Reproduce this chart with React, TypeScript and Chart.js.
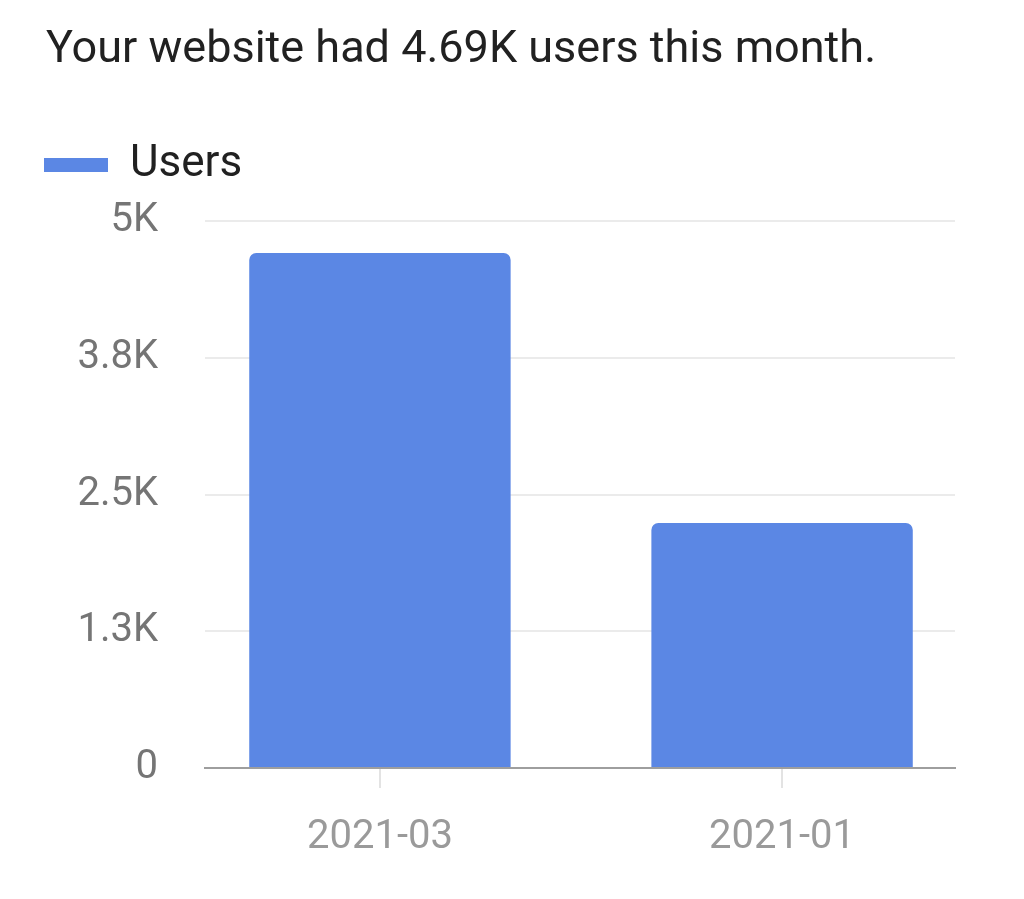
import { useEffect, useRef } from "react";
import { Chart, registerables } from "chart.js";

Chart.register(...registerables);

const headline = "Your website had 4.69K users this month.";
const seriesName = "Users";
const categories = ["2021-03", "2021-01"];
const users = [4710, 2240];
const yTickValues = [0, 1250, 2500, 3750, 5000];
const yTickLabels = ["0", "1.3K", "2.5K", "3.8K", "5K"];

const BAR_BLUE = "#5b87e4";

export default function App() {
  const canvasRef = useRef<HTMLCanvasElement | null>(null);
  const chartRef = useRef<Chart | null>(null);

  useEffect(() => {
    const canvas = canvasRef.current;
    if (!canvas) return;
    const ctx = canvas.getContext("2d");
    if (!ctx) return;

    if (chartRef.current) chartRef.current.destroy();

    chartRef.current = new Chart(ctx, {
      type: "bar",
      data: {
        datasets: [
          {
            label: seriesName,
            data: users.map((v, i) => ({ x: i, y: v })),
            backgroundColor: BAR_BLUE,
            borderWidth: 0,
            borderRadius: { topLeft: 7, topRight: 7, bottomLeft: 0, bottomRight: 0 },
            borderSkipped: false,
            barPercentage: 0.65,
            categoryPercentage: 1,
          },
        ],
      },
      options: {
        animation: false,
        responsive: true,
        maintainAspectRatio: false,
        layout: { padding: { top: 116, left: 17, right: 69, bottom: 0 } },
        font: { family: "Roboto" },
        scales: {
          x: {
            type: "linear",
            offset: false,
            min: -0.435,
            max: 1.43,
            afterBuildTicks: (scale: any) => {
              scale.ticks = categories.map((_, i) => ({ value: i }));
            },
            afterFit: (scale: any) => {
              scale.height = 131;
            },
            ticks: {
              callback: (value: any) => categories[Number(value)] ?? "",
              color: "#9a9a9a",
              font: { family: "Roboto", size: 40 },
              padding: 26,
              maxRotation: 0,
            },
            grid: {
              offset: false,
              drawOnChartArea: false,
              drawTicks: true,
              tickLength: 20,
              color: "#e3e3e3",
              lineWidth: 2,
            },
            border: { display: true, color: "#9e9e9e", width: 2 },
          },
          y: {
            min: 0,
            max: 5000,
            afterBuildTicks: (scale: any) => {
              scale.ticks = yTickValues.map((v) => ({ value: v }));
            },
            afterFit: (scale: any) => {
              scale.width = 188;
            },
            ticks: {
              callback: (_v: any, i: number) => yTickLabels[i],
              color: "#757575",
              font: { family: "Roboto", size: 40 },
              padding: 47,
            },
            grid: {
              drawTicks: false,
              color: "#ebebeb",
              lineWidth: 2,
            },
            border: { display: false },
          },
        },
        plugins: {
          legend: {
            display: true,
            position: "top",
            align: "start",
            labels: {
              boxWidth: 64,
              boxHeight: 14,
              padding: 27,
              color: "#212121",
              font: { family: "Roboto", size: 44 },
            },
          },
          // empty spacer between the legend and the plot
          subtitle: {
            display: true,
            text: "",
            position: "top",
            weight: 500,
            font: { size: 1 },
            padding: { top: 23, bottom: 0 },
          },
          tooltip: { enabled: false },
          title: { display: false },
        },
      } as any,
    });

    return () => {
      if (chartRef.current) {
        chartRef.current.destroy();
        chartRef.current = null;
      }
    };
  }, []);

  return (
    <div
      style={{
        position: "absolute",
        left: 0,
        top: 0,
        width: 1024,
        height: 899,
        background: "#ffffff",
      }}
    >
      <div
        style={{
          position: "absolute",
          left: 46,
          top: 20,
          fontFamily: "Roboto",
          fontSize: 45,
          lineHeight: "54px",
          color: "#212121",
          whiteSpace: "nowrap",
        }}
      >
        {headline}
      </div>
      <canvas ref={canvasRef} style={{ width: 1024, height: 899 }} />
    </div>
  );
}
